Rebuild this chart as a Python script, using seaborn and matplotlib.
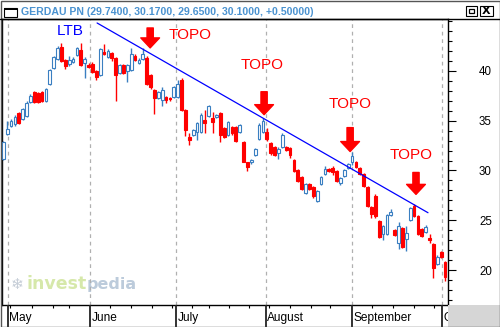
import matplotlib
matplotlib.use("Agg")
import matplotlib.pyplot as plt
import matplotlib.ticker as mticker
from matplotlib.patches import Rectangle
from matplotlib.lines import Line2D
import numpy as np
import pandas as pd
import seaborn as sns

sns.set_theme(style="white")
plt.rcParams["font.family"] = ["Liberation Sans", "DejaVu Sans"]

title = "GERDAU PN (29.7400, 30.1700, 29.6500, 30.1000, +0.50000)"

# daily candles
opens = [31.2, 33.7, 34.5, 34.65, 35.8, 35.2, 35.5, 36.9, 37.9, 37.8,
         37.9, 37.0, 38.7, 40.3, 41.2, 42.4, 41.1, 40.7, 40.9, 41.6,
         42.1, 40.8, 40.6, 40.7, 40.0, 39.6, 41.9, 41.4, 41.8, 41.3,
         39.8, 40.6, 40.0, 40.1, 41.5, 40.8, 41.2, 41.3, 39.6, 38.1,
         37.3, 37.1, 37.4, 37.3, 37.4, 37.4, 39.1, 36.1, 33.4, 33.6,
         33.9, 33.9, 35.1, 35.5, 35.3, 35.4, 35.8, 34.3, 33.6, 34.4,
         34.4, 33.9, 32.9, 30.8, 30.8, 31.6, 33.2, 33.9, 33.9, 32.8,
         32.4, 31.8, 32.4, 32.4, 32.3, 31.1, 30.0, 29.3, 27.7, 28.6,
         28.3, 26.9, 28.6, 29.6, 30.1, 30.2, 29.9, 28.7, 29.4, 30.2,
         30.8, 30.8, 30.2, 29.6, 28.3, 26.3, 27.4, 24.9, 23.6, 23.6,
         25.5, 24.0, 22.7, 24.2, 23.1, 25.0, 26.4, 25.4, 24.1, 23.8,
         23.2, 22.6, 20.6, 21.8, 20.8]
highs = [33.0, 35.0, 35.2, 35.6, 35.9, 36.3, 37.0, 37.7, 38.0, 37.9,
         38.0, 38.3, 40.2, 41.5, 42.5, 42.8, 41.2, 41.5, 41.4, 42.4,
         42.8, 41.4, 40.8, 40.9, 40.1, 42.3, 42.7, 42.2, 41.9, 41.4,
         40.7, 40.7, 40.7, 42.3, 41.7, 41.3, 42.3, 41.5, 39.7, 38.2,
         38.0, 38.4, 37.5, 37.4, 38.5, 39.1, 39.3, 36.2, 33.8, 34.2,
         34.9, 35.8, 36.1, 36.6, 35.9, 35.7, 35.9, 34.4, 35.0, 34.5,
         34.5, 34.7, 33.0, 30.9, 31.2, 32.3, 34.8, 35.3, 34.3, 32.9,
         32.5, 32.4, 33.8, 32.5, 32.4, 31.2, 30.1, 29.4, 28.7, 28.7,
         28.4, 28.0, 29.4, 30.4, 30.2, 30.4, 30.0, 29.3, 30.1, 30.7,
         31.9, 31.0, 30.3, 29.7, 28.4, 26.4, 27.6, 25.0, 24.5, 25.6,
         26.1, 24.1, 24.8, 24.3, 24.4, 26.3, 26.6, 25.5, 24.2, 24.5,
         23.6, 22.7, 21.5, 21.9, 20.9]
lows = [31.1, 33.6, 34.4, 34.5, 34.7, 35.1, 35.4, 36.8, 36.8, 36.8,
        36.9, 36.9, 38.6, 40.2, 41.1, 40.9, 40.2, 40.5, 40.8, 41.5,
        40.5, 39.3, 40.3, 39.8, 39.1, 39.5, 41.6, 41.3, 41.0, 37.0,
        39.7, 39.7, 38.9, 40.0, 41.0, 40.7, 41.1, 38.6, 38.2, 35.7,
        37.2, 36.5, 36.8, 37.0, 37.3, 37.3, 36.0, 33.5, 32.6, 33.5,
        33.1, 33.8, 33.8, 35.4, 33.8, 35.3, 32.9, 33.3, 33.5, 33.6,
        32.9, 33.8, 30.8, 29.9, 30.6, 31.5, 33.1, 33.8, 33.0, 31.6,
        31.5, 31.2, 32.3, 32.0, 31.3, 29.8, 28.8, 28.0, 27.6, 28.0,
        27.2, 26.8, 28.5, 29.5, 29.8, 29.5, 28.8, 28.5, 29.3, 30.1,
        30.5, 30.2, 29.5, 28.3, 26.3, 25.2, 25.2, 23.2, 23.0, 23.5,
        25.4, 23.4, 22.1, 22.2, 21.9, 24.9, 25.3, 23.5, 23.3, 23.7,
        22.7, 19.2, 20.5, 21.2, 18.9]
closes = [32.9, 34.15, 35.0, 35.4, 34.8, 36.2, 36.8, 37.5, 36.9, 36.9,
          37.0, 38.2, 40.1, 41.4, 42.3, 41.0, 40.5, 41.1, 41.2, 42.3,
          40.6, 41.2, 40.4, 39.9, 39.4, 42.2, 41.7, 42.0, 41.3, 39.6,
          40.6, 39.8, 40.6, 41.7, 41.1, 41.1, 41.7, 38.7, 38.4, 37.3,
          37.9, 38.1, 37.1, 37.2, 38.4, 38.7, 36.1, 34.1, 33.1, 34.1,
          34.8, 35.6, 34.8, 36.5, 34.9, 35.6, 33.6, 33.4, 34.9, 33.8,
          33.0, 34.6, 30.9, 30.3, 31.1, 32.2, 34.6, 35.0, 33.2, 31.8,
          31.6, 32.2, 33.6, 32.1, 31.6, 29.9, 28.9, 28.1, 28.6, 28.1,
          27.4, 27.9, 29.3, 30.1, 29.9, 29.8, 28.9, 29.2, 30.0, 30.6,
          31.5, 30.3, 29.6, 28.4, 26.4, 25.6, 25.4, 23.3, 24.4, 25.5,
          25.8, 23.5, 24.4, 22.3, 23.7, 26.2, 25.4, 23.6, 23.4, 24.3,
          23.0, 20.2, 21.3, 21.3, 19.3]

# calendar axis (positions in trading-day units)
month_names = ["May", "June", "July", "August", "September", "October"]
month_starts = [1.2, 22.4, 44.6, 67.8, 90.0, 113.2]
week_ticks = [1.7, 7.4, 12.8, 17.0, 27.5, 33.0, 38.4, 43.5, 48.7, 53.1,
              58.2, 63.4, 68.6, 74.0, 79.4, 84.3, 95.1, 100.6, 106.0, 111.2]
price_ticks = [20, 25, 30, 35, 40]

# descending trend line (LTB) and the tops that touch it
ltb_x = [24.2, 109.6]
ltb_y = [44.8, 25.76]
ltb_label_pos = (17.2, 44.0)
topo_x = [37.9, 67.3, 89.5, 106.5]
topo_tip = [42.3, 35.6, 31.9, 27.6]
topo_tail = [44.3, 37.9, 34.3, 29.8]
topo_text_x = [48.2, 66.8, 89.6, 105.2]
topo_text_y = [43.56, 40.62, 36.72, 31.6]

df = pd.DataFrame({"open": opens, "high": highs, "low": lows, "close": closes})
df["x"] = np.arange(len(df))
df["up"] = df["close"] >= df["open"]

W, H = 500, 327
fig = plt.figure(figsize=(W / 100, H / 100), dpi=100)
fig.patch.set_facecolor("white")

ax = fig.add_axes([2 / W, 22 / H, 446 / W, 286 / H])
band = fig.add_axes([2 / W, 0, 446 / W, 22 / H])

XMIN, XMAX = -0.335, 114.76
ax.set_xlim(XMIN, XMAX)
ax.set_ylim(16.5, 45.2)
ax.set_facecolor("white")

UP_EDGE = "#3a7fc1"
DOWN = "#ff0000"

# month separators
for m in month_starts:
    ax.axvline(m, color="#b0b0b0", lw=0.9, ls=(0, (3, 3)), zorder=1)

# wicks
for up, color in [(True, UP_EDGE), (False, DOWN)]:
    sub = df[df["up"] == up]
    ax.vlines(sub["x"], sub["low"], sub["high"], colors=color, lw=1.0, zorder=2)

# bodies
body_lo = np.minimum(df["open"], df["close"])
body_h = np.maximum(np.abs(df["close"] - df["open"]), 0.08)
face = np.where(df["up"], "white", DOWN)
edge = np.where(df["up"], UP_EDGE, DOWN)
ax.bar(df["x"], body_h, bottom=body_lo, width=0.72, color=face,
       edgecolor=edge, linewidth=0.8, zorder=3)

# trend line
sns.lineplot(x=ltb_x, y=ltb_y, ax=ax, color="#0000ff", lw=0.9, zorder=4)
ax.text(ltb_label_pos[0], ltb_label_pos[1], "LTB", color="#0000ff",
        fontsize=11, ha="center", va="center", zorder=5)

for xa, tip, tail, tx, ty in zip(topo_x, topo_tip, topo_tail, topo_text_x, topo_text_y):
    ax.annotate("", xy=(xa, tip), xytext=(xa, tail),
                arrowprops=dict(arrowstyle="simple,head_length=0.72,head_width=1.35,tail_width=0.45",
                                color="#ff0000", shrinkA=0, shrinkB=0, mutation_scale=10),
                zorder=5)
    ax.text(tx, ty, "TOPO", color="#ff0000", fontsize=11, ha="center",
            va="center", zorder=5)

# right price axis
ax.yaxis.tick_right()
ax.yaxis.set_major_locator(mticker.FixedLocator(price_ticks))
ax.yaxis.set_minor_locator(mticker.MultipleLocator(1))
ax.tick_params(axis="y", which="major", direction="out", length=5.8, width=0.8,
               color="black", pad=16.5, labelsize=8.3, labelcolor="black",
               right=True, left=False, labelright=True, labelleft=False)
ax.tick_params(axis="y", which="minor", direction="out", length=2.9, width=0.8,
               color="black", right=True, left=False)
ax.set_xticks(week_ticks)
ax.tick_params(axis="x", which="major", direction="out", length=2.3, width=0.8,
               color="black", bottom=True, labelbottom=False)
ax.grid(False)
for s in ax.spines.values():
    s.set_color("black")
    s.set_linewidth(1.0)
    s.set_visible(True)

# watermark
ax.text(3.5, 18.6, "\u2744", color="#c4ccd6", fontsize=11, ha="center",
        va="center", family="DejaVu Sans", zorder=0)
ax.text(5.9, 18.6, "invest", color="#d6e8aa", fontsize=12.5, fontweight="bold",
        ha="left", va="center", family="DejaVu Sans", zorder=0)
ax.text(21.6, 18.6, "pedia", color="#bccbdb", fontsize=11.5, fontweight="bold",
        ha="left", va="center", family="DejaVu Sans", zorder=0)

# date band
band.set_xlim(XMIN, XMAX)
band.set_ylim(0, 1)
band.set_facecolor("none")
band.axis("off")
band.vlines(month_starts, 0, 1, colors="#222222", lw=1.3)
for m, name in zip(month_starts, month_names):
    band.text(m + 0.35, 0.27, name, fontsize=8.6, color="black", ha="left",
              va="baseline", clip_on=True)

# corner filler, title bar and frame
fig.add_artist(Rectangle((448 / W, 0), 52 / W, 22 / H, transform=fig.transFigure,
                         facecolor="#d6d6d6", edgecolor="none"))
fig.add_artist(Line2D([0, 1], [1 - 19 / H, 1 - 19 / H], transform=fig.transFigure,
                      color="black", lw=1.0))
fig.text(21 / W, 1 - 15 / H, title, color="#4a92d0", fontsize=7.6,
         fontweight="bold", ha="left", va="baseline")
fig.add_artist(Rectangle((4 / W, 1 - 17 / H), 13 / W, 9 / H, transform=fig.transFigure,
                         facecolor="white", edgecolor="black", lw=0.8))
fig.add_artist(Rectangle((4 / W, 1 - 10 / H), 13 / W, 2 / H, transform=fig.transFigure,
                         facecolor="black", edgecolor="none"))
fig.add_artist(Rectangle((466 / W, 1 - 16 / H), 11 / W, 10 / H, transform=fig.transFigure,
                         facecolor="white", edgecolor="black", lw=0.8))
fig.add_artist(Rectangle((469 / W, 1 - 13 / H), 5 / W, 4 / H, transform=fig.transFigure,
                         facecolor="white", edgecolor="black", lw=0.9))
fig.add_artist(Rectangle((480 / W, 1 - 16 / H), 13 / W, 10 / H, transform=fig.transFigure,
                         facecolor="white", edgecolor="black", lw=0.8))
fig.text(486.5 / W, 1 - 11 / H, "X", fontsize=8, fontweight="bold", color="black",
         ha="center", va="center", family="DejaVu Sans")
fig.add_artist(Rectangle((0.5 / W, 0.5 / H), 499 / W, 326 / H, transform=fig.transFigure,
                         facecolor="none", edgecolor="#555555", lw=1.0))

fig.savefig("out.png", dpi=100)
